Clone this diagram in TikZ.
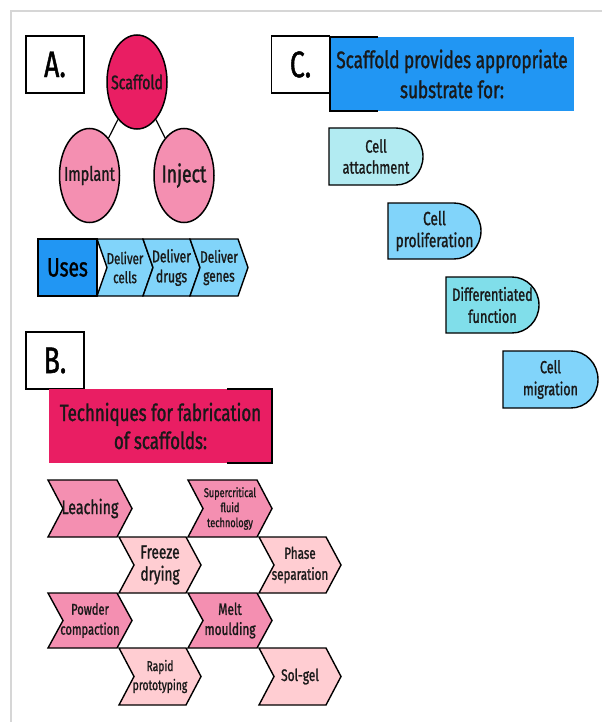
\documentclass[tikz,border=0pt]{standalone}
\usepackage{fontspec}
\setmainfont{Fira Sans}[FakeStretch=0.72,FakeBold=1.2]
\usetikzlibrary{shapes.geometric}
\definecolor{framegray}{HTML}{D6D6D6}
\definecolor{hotpink}{HTML}{E91E63}
\definecolor{midpink}{HTML}{F48FB1}
\definecolor{lightpink}{HTML}{FFCDD2}
\definecolor{usesblue}{HTML}{2196F3}
\definecolor{skyblue}{HTML}{81D4FA}
\definecolor{paleteal}{HTML}{B2EBF2}
\definecolor{tealish}{HTML}{80DEEA}
\tikzset{
  chevline/.style={draw=black,line width=1.4pt,line join=miter},
  txt/.style={inner sep=0pt,align=center,text=black!90},
  labelbox/.style={draw=black,line width=1.6pt,fill=white,minimum width=58pt,minimum height=57pt,inner sep=0pt,font=\fontsize{37}{40}\selectfont},
  ell/.style={ellipse,draw=black,line width=1.5pt,inner sep=0pt,minimum width=60pt,minimum height=94pt},
  conn/.style={draw=black,line width=1.2pt},
}
% chevron: name, x0, y0, w, h, depth, fill, font, text
\newcommand\chev[9]{%
  \pgfmathsetmacro\xa{#2+#4-#6}\pgfmathsetmacro\xb{#2+#4}%
  \pgfmathsetmacro\ym{#3+#5/2}\pgfmathsetmacro\yb{#3+#5}%
  \pgfmathsetmacro\xn{#2+#6}\pgfmathsetmacro\xc{#2+#4/2}%
  \draw[chevline,fill=#7] (#2,#3) -- (\xa,#3) -- (\xb,\ym) -- (\xa,\yb) -- (#2,\yb) -- (\xn,\ym) -- cycle;
  \node[txt,font=#8] (#1) at (\xc,\ym) {#9};}
% tab with rounded right end: name, x0, y0, w, h, fill, font, text
\newcommand\tabshape[8]{%
  \pgfmathsetmacro\rx{27}\pgfmathsetmacro\ry{#5/2}%
  \pgfmathsetmacro\xa{#2+#4-\rx}\pgfmathsetmacro\xb{#2+#4}%
  \pgfmathsetmacro\ym{#3+#5/2}\pgfmathsetmacro\yb{#3+#5}%
  \pgfmathsetmacro\ca{\xa+0.5523*\rx}\pgfmathsetmacro\cu{\ym-0.5523*\ry}\pgfmathsetmacro\cd{\ym+0.5523*\ry}%
  \pgfmathsetmacro\xc{#2+#4/2}%
  \draw[chevline,fill=#6] (#2,#3) -- (\xa,#3) .. controls (\ca,#3) and (\xb,\cu) .. (\xb,\ym) .. controls (\xb,\cd) and (\ca,\yb) .. (\xa,\yb) -- (#2,\yb) -- cycle;
  \node[txt,font=#7] (#1) at (\xc,\ym) {#8};}
\begin{document}
\begin{tikzpicture}[x=1pt,y=-1pt]
\useasboundingbox (0,0) rectangle (602,722);
\fill[white] (0,0) rectangle (602,722);
\draw[framegray,line width=1.2pt] (11,722) -- (11,11) -- (602,11);

% ---------- A ----------
\node[labelbox] (boxA) at (55,64.5) {A.};
\node[ell,fill=hotpink] (scaf) at (137,82) {};
\node[ell,fill=midpink] (impl) at (89.5,175.5) {};
\node[ell,fill=midpink] (inj) at (184,175.5) {};
\node[txt,font=\fontsize{19.5}{22}\selectfont] (scaft) at (scaf) {Scaffold};
\node[txt,font=\fontsize{20}{22}\selectfont] (implt) at (impl) {Implant};
\node[txt,font=\fontsize{24.5}{26}\selectfont] (injt) at (inj) {Inject};
\draw[conn] (scaf) -- (impl);
\draw[conn] (scaf) -- (inj);

\node[draw=black,line width=1.4pt,fill=usesblue,minimum width=59pt,minimum height=57pt,inner sep=0pt,font=\fontsize{26.5}{28}\selectfont] (uses) at (67.5,267.5) {Uses};
\chev{dcells}{97}{239}{56}{57}{10}{skyblue}{\fontsize{16}{19}\selectfont}{Deliver\\cells}
\chev{ddrugs}{143}{239}{57}{57}{10}{skyblue}{\fontsize{17}{20}\selectfont}{Deliver\\drugs}
\chev{dgenes}{190}{239}{58}{57}{10}{skyblue}{\fontsize{16.5}{19}\selectfont}{Deliver\\genes}

% ---------- C ----------
\node[fill=usesblue,minimum width=244pt,minimum height=74pt,inner sep=0pt,align=center,text=black!90,font=\fontsize{23.8}{30}\selectfont] (bannerC) at (452,74) {Scaffold provides appropriate\\substrate for:};
\node[labelbox] (boxC) at (300.5,64.5) {C.};
\draw[black,line width=1.6pt] ([xshift=48pt]bannerC.north west) -- (bannerC.north west) -- (bannerC.south west) -- ([xshift=48pt]bannerC.south west);

\tabshape{attach}{329}{128}{94}{57}{paleteal}{\fontsize{17.8}{21}\selectfont}{Cell\\attachment}
\tabshape{prolif}{388}{203}{93}{56}{skyblue}{\fontsize{19}{22}\selectfont}{Cell\\proliferation}
\tabshape{diff}{446}{277}{93}{56}{tealish}{\fontsize{17.8}{22}\selectfont}{Differentiated\\function}
\tabshape{migr}{503}{351}{95}{57}{skyblue}{\fontsize{17.5}{22}\selectfont}{Cell\\migration}

% ---------- B ----------
\node[labelbox] (boxB) at (55,360.5) {B.};
\node[fill=hotpink,minimum width=223pt,minimum height=74pt,inner sep=0pt,align=center,text=black!90,font=\fontsize{23.5}{28}\selectfont] (bannerB) at (160.5,426) {Techniques for fabrication\\of scaffolds:};
\draw[black,line width=1.6pt] ([xshift=-45pt]bannerB.north east) -- (bannerB.north east) -- (bannerB.south east) -- ([xshift=-45pt]bannerB.south east);

\chev{leach}{48}{480}{84}{57}{15}{midpink}{\fontsize{19.7}{22}\selectfont}{Leaching}
\chev{superc}{188}{480}{84}{57}{15}{midpink}{\fontsize{12.7}{15}\selectfont}{Supercritical\\fluid\\technology}
\chev{freeze}{119}{537}{82}{56}{15}{lightpink}{\fontsize{19}{22}\selectfont}{Freeze\\drying}
\chev{phase}{259}{537}{82}{56}{15}{lightpink}{\fontsize{16.2}{21}\selectfont}{Phase\\separation}
\chev{powder}{48}{593}{84}{55}{15}{midpink}{\fontsize{15.5}{20}\selectfont}{Powder\\compaction}
\chev{melt}{188}{593}{84}{55}{15}{midpink}{\fontsize{16.5}{20}\selectfont}{Melt\\moulding}
\chev{rapid}{119}{648}{82}{57}{15}{lightpink}{\fontsize{14.3}{19}\selectfont}{Rapid\\prototyping}
\chev{solgel}{259}{648}{82}{57}{15}{lightpink}{\fontsize{16.6}{20}\selectfont}{Sol-gel}
\end{tikzpicture}
\end{document}
